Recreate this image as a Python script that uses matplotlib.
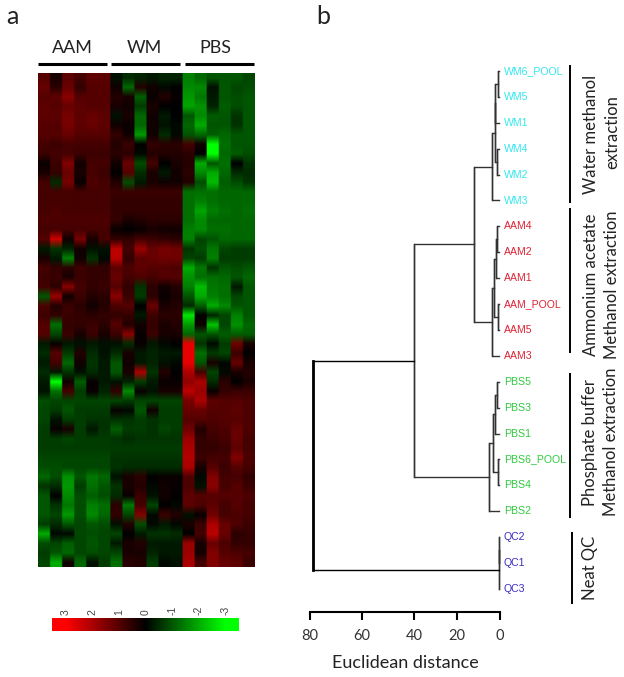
import numpy as np
import matplotlib
matplotlib.use("Agg")
import matplotlib.pyplot as plt
from matplotlib.colors import LinearSegmentedColormap

# heatmap values, top row first
aam_values = [
    [1.0, 0.3, 1.1, 0.8, 1.1, 1.1], [1.2, 0.5, 1.2, 0.6, 1.0, 1.0], [1.0, 1.1, 1.6, 1.0, 1.0, 1.0],
    [1.1, 1.0, 1.2, 1.1, 1.0, 1.0], [1.1, 1.1, 1.4, 1.1, 1.2, 1.1], [1.0, 1.0, 1.4, 1.1, 1.2, 1.1],
    [1.0, 1.0, 1.2, 1.0, 1.0, 1.0], [0.8, 0.7, 0.8, 0.8, 0.8, 0.8], [0.7, 0.8, 0.8, 0.7, 0.7, 0.7],
    [0.1, 0.7, 1.5, 0.2, 0.8, 0.8], [0.3, 0.6, 1.2, 0.3, 0.8, 0.7], [0.8, -0.5, 1.4, 0.1, 0.9, 0.8],
    [0.8, 0.8, 0.8, 0.8, 0.8, 0.8], [0.8, 0.8, 0.8, 0.8, 0.8, 0.8], [0.8, 0.9, 0.8, 0.8, 0.8, 0.8],
    [0.9, 0.9, 0.9, 0.9, 0.9, 0.9], [0.8, 0.8, 0.8, 0.8, 0.8, 0.8], [1.0, 2.4, 0.2, 1.4, 0.3, 0.8],
    [-0.3, -0.6, -0.4, 0.2, -0.2, -0.2], [0.3, -0.3, -1.5, 0.2, -0.6, -0.1], [0.8, 0.6, 0.5, 0.7, 0.6, 0.6],
    [0.7, 0.7, 0.3, 0.7, 0.6, 0.6], [0.8, 0.5, 1.6, 0.8, 0.6, 0.7], [-1.0, 1.8, 0.2, 0.7, 0.4, 0.5],
    [0.9, 0.4, 0.7, 0.5, 0.2, 0.4], [0.7, 0.6, 0.7, 0.6, 0.5, 0.6], [1.0, -1.3, 0.6, 0.6, 0.7, 0.5],
    [1.0, -0.8, 0.7, 0.3, 0.7, 0.3], [-0.3, 0.1, -0.3, -0.2, -0.3, -0.2], [-0.5, 1.0, -0.7, 0.4, -0.5, -0.2],
    [-0.3, 0.8, -1.2, 0.2, -0.6, -0.3], [-0.5, -0.3, -0.6, -0.2, -0.5, -0.3], [-0.3, -3.0, 0.2, -1.1, 0.1, -0.3],
    [-0.2, -1.3, 0.8, -0.7, 0.1, -0.4], [-0.9, -0.8, -0.8, -0.8, -0.8, -0.8], [-0.8, -0.7, -1.0, -0.7, -0.7, -0.7],
    [-0.8, -0.2, -0.7, -0.7, -0.6, -0.6], [-0.7, 0.1, 0.3, -0.7, -0.3, -0.6], [-0.7, -0.7, -0.8, -0.7, -0.7, -0.7],
    [-0.7, -0.7, -0.7, -0.7, -0.7, -0.7], [-0.8, -0.8, -0.8, -0.8, -0.8, -0.8], [-0.9, -0.9, -0.8, -0.8, -0.8, -0.8],
    [-1.2, -0.9, -1.7, -1.0, -1.4, -1.2], [-0.6, -0.5, -1.8, -0.7, -1.3, -1.0], [-1.0, 0.0, -1.6, -0.9, -1.1, -0.9],
    [-1.0, -0.6, -1.4, -0.9, -1.5, -1.3], [-1.0, -0.8, -1.8, -0.9, -1.6, -1.2], [-0.7, -0.5, -1.0, -0.8, -1.0, -0.9],
    [-2.0, -0.1, -0.1, -0.8, -0.9, -0.8], [-0.9, -0.8, -1.1, -0.8, -1.0, -0.8], [-0.7, -1.0, -1.2, -0.8, -0.9, -0.8],
    [-0.8, -2.0, 0.2, -1.2, -0.2, -0.7],
]
wm_values = [
    [-0.2, -0.5, -0.4, -0.3, -0.4, -0.4], [0.2, -1.2, 0.4, 0.2, -0.1, 0.0], [0.4, 0.3, -1.1, 0.1, 0.4, 0.1],
    [0.3, 0.2, -0.7, 0.3, 0.0, 0.0], [-0.2, 0.3, -1.2, 0.2, -0.3, 0.0], [0.2, 0.1, -1.2, 0.2, -0.2, -0.1],
    [0.6, 0.2, -1.8, 0.2, -0.5, -0.1], [0.4, 0.7, 0.0, 0.6, 0.5, 0.5], [0.5, 0.5, -0.1, 0.4, 0.4, 0.4],
    [0.2, 1.2, -0.9, 0.8, 0.0, 0.3], [0.0, 1.0, -0.5, 0.3, -0.3, 0.2], [0.4, -0.9, -0.3, 0.3, 0.2, 0.2],
    [0.7, 0.7, 0.7, 0.7, 0.7, 0.7], [0.6, 0.6, 0.6, 0.6, 0.6, 0.6], [0.6, 0.6, 0.6, 0.6, 0.6, 0.6],
    [0.6, 0.3, 0.4, 0.5, 0.5, 0.5], [0.1, 0.0, 0.1, 0.3, 0.2, 0.2], [0.6, 0.6, 0.8, 0.7, 0.6, 0.5],
    [2.2, 0.8, 1.8, 1.2, 1.4, 1.3], [2.2, 0.6, 1.1, 1.2, 1.3, 1.3], [1.1, 0.9, 1.1, 1.0, 1.0, 0.9],
    [1.2, 0.8, 0.9, 0.8, 1.0, 1.0], [1.0, 0.6, -0.6, 0.5, 0.2, 0.4], [1.6, 0.7, -0.7, 0.5, 0.1, 0.3],
    [0.9, 1.0, 0.0, 1.2, 0.3, 0.4], [0.6, 0.6, -0.3, 0.7, 0.5, 0.5], [1.0, 0.4, 0.2, 0.6, 0.3, 0.4],
    [0.7, 1.6, 0.1, 0.7, 0.3, 0.3], [-0.2, -0.5, 0.1, -0.3, -0.1, 0.0], [-0.5, 0.3, -0.3, -0.4, -0.3, -0.3],
    [-1.0, 0.2, -0.3, -0.4, -0.2, -0.1], [-1.0, 0.3, 2.0, -0.6, 0.4, 0.0], [-0.2, -0.4, -0.7, -0.3, 0.1, 0.1],
    [0.6, -1.6, 0.1, -0.2, 0.3, 0.3], [-0.8, -0.7, -0.8, -0.8, -0.8, -0.8], [0.1, -0.1, -1.0, 0.2, -0.7, -0.7],
    [-0.6, -0.6, -0.7, -0.6, -0.7, -0.7], [-1.1, -0.7, -0.7, -0.6, -0.8, -0.7], [-0.6, -0.5, -0.6, -0.6, -0.6, -0.6],
    [-0.7, -0.7, -0.7, -0.7, -0.7, -0.7], [-0.6, -0.6, -0.6, -0.6, -0.6, -0.6], [-0.6, -0.5, -0.5, -0.5, -0.5, -0.5],
    [-0.2, 0.3, 0.5, 0.0, 0.1, 0.1], [-0.6, 0.3, 0.4, -0.1, 0.2, 0.1], [-0.5, 0.1, 0.7, -0.2, 0.2, 0.0],
    [0.5, -1.4, 0.8, -0.8, 0.0, -0.1], [0.6, -0.8, 1.5, -0.1, 0.7, 0.4], [-0.2, 0.4, -0.9, -0.1, -0.3, -0.1],
    [-0.8, 0.0, -0.3, -0.6, -0.6, -0.5], [-0.3, 0.3, 0.4, -0.3, -0.3, -0.3], [-0.8, 0.3, 0.3, -0.4, -0.3, -0.3],
    [-1.3, 0.5, 0.4, -0.7, -0.1, -0.2],
]
pbs_values = [
    [-1.5, -1.2, -1.0, -1.0, -1.0, -0.8], [-1.6, -1.6, -0.2, -1.0, -0.8, -0.9], [-1.8, -1.4, -0.3, -1.0, -0.9, -1.0],
    [-1.9, -1.7, -0.4, -1.1, -0.9, -1.0], [-1.0, -1.6, -1.1, -1.0, -0.6, -1.0], [-1.2, -2.0, -1.0, -1.0, -0.6, -1.0],
    [-1.0, -1.2, -1.1, -1.2, -1.0, -1.0], [0.8, 0.2, -3.0, -1.3, -1.0, -1.0], [0.5, 0.0, -3.0, -1.2, -1.1, -0.9],
    [0.4, -2.0, -1.0, -1.3, 0.0, -0.6], [0.5, -1.6, -2.0, -1.2, -0.5, -0.5], [0.4, -0.9, -2.2, -1.1, -0.9, -0.6],
    [-1.3, -1.3, -1.3, -1.2, -1.2, -1.2], [-1.3, -1.5, -1.3, -1.2, -1.2, -1.2], [-1.3, -1.9, -1.5, -1.3, -1.2, -1.3],
    [-1.3, -1.6, -1.2, -1.2, -1.2, -1.2], [-1.5, -1.6, -1.3, -1.3, -1.2, -1.2], [-1.5, -0.8, -1.0, -1.2, -1.2, -1.2],
    [-0.6, -0.9, -1.4, -0.8, -0.7, -0.7], [-0.8, -0.7, -1.5, -0.7, -0.7, -0.7], [-2.0, -1.4, -0.6, -1.0, -0.9, -1.0],
    [-1.7, -1.3, -1.3, -1.2, -1.0, -1.2], [-1.5, -2.2, -1.4, -1.3, -0.3, -1.0], [-1.0, -2.0, -1.5, -1.3, -0.8, -1.0],
    [-0.5, -1.1, -2.0, -1.6, -1.0, -1.0], [-2.7, 0.0, -0.4, -0.8, -1.5, -1.0], [-1.8, 0.2, -2.3, -0.8, -1.7, -1.2],
    [-1.2, -1.0, -1.0, -1.1, -1.1, -1.1], [2.7, -0.6, -0.1, -0.7, 1.3, 0.3], [2.7, -1.3, -0.7, -0.8, 0.7, 0.0],
    [2.7, -1.0, 0.3, -0.1, 1.2, 0.3], [2.0, 0.8, -0.8, -0.1, 0.3, 0.4], [1.7, 2.0, -0.5, 0.5, 0.0, 0.3],
    [2.2, 1.8, 0.1, 0.6, 0.7, 0.7], [1.4, 2.0, 1.1, 1.0, 1.0, 0.9], [1.2, 1.2, 1.0, 1.0, 1.1, 0.9],
    [1.0, 1.0, 0.9, 1.0, 1.0, 0.9], [1.3, 0.4, 0.8, 0.9, 1.2, 0.9], [1.8, 0.6, 0.7, 0.8, 1.2, 0.8],
    [2.0, 0.6, 0.6, 0.7, 1.1, 0.8], [2.1, 0.7, 0.8, 0.8, 1.5, 0.9], [2.0, 0.3, 1.0, 0.7, 1.0, 0.8],
    [0.9, -0.1, 1.5, 0.8, 0.8, 0.6], [0.9, -0.2, 1.6, 0.8, 1.0, 0.7], [1.1, 1.0, 1.0, 1.0, 1.0, 0.9],
    [1.1, 0.9, 1.1, 0.8, 1.0, 0.8], [-0.2, 0.1, 1.3, 0.8, 0.9, 0.8], [0.3, 0.7, 2.0, 1.2, 0.9, 0.7],
    [0.0, 0.8, 2.2, 1.2, 0.5, 0.6], [1.8, 0.3, 1.2, 0.9, 0.6, 0.6], [1.8, 0.2, 1.5, 1.0, 0.9, 0.8],
    [2.0, 0.8, 1.5, 1.2, 1.1, 0.7],
]
group_names = ["AAM", "WM", "PBS"]
colorbar_ticks = [3, 2, 1, 0, -1, -2, -3]

# dendrogram: leaves top to bottom
wm_leaves = ["WM6_POOL", "WM5", "WM1", "WM4", "WM2", "WM3"]
aam_leaves = ["AAM4", "AAM2", "AAM1", "AAM_POOL", "AAM5", "AAM3"]
pbs_leaves = ["PBS5", "PBS3", "PBS1", "PBS6_POOL", "PBS4", "PBS2"]
qc_leaves = ["QC2", "QC1", "QC3"]
leaf_height = 0.5
distance_ticks = [80, 60, 40, 20, 0]
# merge heights, tree is (height, left, right) with leaf names at the ends
wm_tree = (3.7, (2.1, (2.2, (1.0, "WM6_POOL", "WM5"), "WM1"), (1.4, "WM4", "WM2")), "WM3")
aam_tree = (3.7, (2.6, (1.9, (1.5, "AAM4", "AAM2"), "AAM1"), (1.0, "AAM_POOL", "AAM5")), "AAM3")
pbs_tree = (5.3, (3.1, (2.2, (1.5, "PBS5", "PBS3"), "PBS1"), (1.1, "PBS6_POOL", "PBS4")), "PBS2")
qc_tree = (0.5, (0.5, "QC2", "QC1"), "QC3")
tree = (79, (40, (12, wm_tree, aam_tree), pbs_tree), qc_tree)

W, H = 624, 677
TEXT = "#222222"
plt.rcParams["font.family"] = ["Lato", "DejaVu Sans"]

fig = plt.figure(figsize=(W / 100, H / 100), dpi=100)


def add_axes_px(x0, y0, x1, y1):
    return fig.add_axes([x0 / W, 1 - y1 / H, (x1 - x0) / W, (y1 - y0) / H])


# overlay in pixel coords for panel letters, group bars and brackets
overlay = fig.add_axes([0, 0, 1, 1], zorder=5)
overlay.set_xlim(0, W)
overlay.set_ylim(H, 0)
overlay.axis("off")

# a. heatmap
cmap = LinearSegmentedColormap.from_list("rkg", ["#00ff00", "#000000", "#ff0000"])
matrix = np.hstack([np.array(aam_values), np.array(wm_values), np.array(pbs_values)])
ax_heat = add_axes_px(37.5, 73, 254, 567)
# repeat columns so the smoothing only softens the rows
ax_heat.imshow(np.repeat(matrix, 8, axis=1), cmap=cmap, vmin=-3, vmax=3, aspect="auto", interpolation="bilinear")
ax_heat.set_xticks([])
ax_heat.set_yticks([])
for spine in ax_heat.spines.values():
    spine.set_visible(False)

ax_cbar = add_axes_px(52, 618, 239, 631)
gradient = np.linspace(3.5, -3.5, 256).reshape(1, -1)
ax_cbar.imshow(gradient, cmap=cmap, vmin=-3, vmax=3, aspect="auto", extent=(3.5, -3.5, 0, 1))
ax_cbar.set_yticks([])
ax_cbar.xaxis.tick_top()
ax_cbar.set_xticks(colorbar_ticks)
ax_cbar.set_xticklabels([str(t) for t in colorbar_ticks], rotation=90, fontsize=7.5, color="#444444",
                        family="Liberation Sans")
ax_cbar.tick_params(axis="x", length=0, pad=2)
for spine in ax_cbar.spines.values():
    spine.set_visible(False)

for name, x_mid, x0, x1 in zip(group_names, [72, 144, 215], [38, 111, 185], [107, 180, 254]):
    overlay.text(x_mid, 48, name, ha="center", va="center", fontsize=13, color=TEXT)
    overlay.plot([x0, x1], [64, 64], color="black", lw=2.2, solid_capstyle="butt")

overlay.text(12, 17, "a", ha="center", va="center", fontsize=18, color=TEXT)
overlay.text(323, 16, "b", ha="center", va="center", fontsize=18, color=TEXT)

# b. dendrogram
leaf_pixels = [71 + 25.9 * i for i in range(21)]
y_top, y_bottom = 60, 612
ax_tree = add_axes_px(310, y_top, 500, y_bottom)
ax_tree.patch.set_alpha(0)
tick_pixels = [310, 362, 414, 457, 500]


# the printed axis is not even, so ticks go through a piecewise scale (negated to stay increasing)
def dist_to_px(v):
    return -np.interp(v, distance_ticks[::-1], tick_pixels[::-1])


def px_to_dist(v):
    return np.interp(-np.asarray(v), tick_pixels, distance_ticks)


ax_tree.set_xscale("function", functions=(dist_to_px, px_to_dist))
ax_tree.set_xlim(80, 0)
ax_tree.set_ylim((y_bottom - 71) / 25.9, (y_top - 71) / 25.9)

leaves = wm_leaves + aam_leaves + pbs_leaves + qc_leaves
leaf_colors = ["#35e6ee"] * 6 + ["#dd2233"] * 6 + ["#2fcb3f"] * 6 + ["#3a2cc0"] * 3
leaf_pos = {name: i for i, name in enumerate(leaves)}


def draw_node(node):
    # returns (distance, y) of the node
    if isinstance(node, str):
        return leaf_height, leaf_pos[node]
    height, left, right = node
    x_l, y_l = draw_node(left)
    x_r, y_r = draw_node(right)
    lw = 2.0 if height > 70 else 1.0
    color = "black" if height > 70 else "#333333"
    ax_tree.plot([x_l, height, height, x_r], [y_l, y_l, y_r, y_r], color=color, lw=1.0, clip_on=False)
    ax_tree.plot([height, height], [y_l, y_r], color=color, lw=lw, clip_on=False)
    return height, (y_l + y_r) / 2


draw_node(tree)

for name, color in zip(leaves, leaf_colors):
    ax_tree.annotate(name, (leaf_height, leaf_pos[name]), xytext=(3.6, 0), textcoords="offset points",
                     ha="left", va="center", fontsize=7.6, color=color, family="Liberation Sans",
                     annotation_clip=False)

ax_tree.set_xticks(distance_ticks)
ax_tree.set_xticklabels([str(t) for t in distance_ticks], fontsize=10.5, color="#333333")
ax_tree.minorticks_off()
ax_tree.set_yticks([])
ax_tree.tick_params(axis="x", length=6, width=1.5, pad=6)
for side in ["top", "left", "right"]:
    ax_tree.spines[side].set_visible(False)
ax_tree.spines["bottom"].set_linewidth(1.5)
ax_tree.set_xlabel("Euclidean distance", fontsize=13, color=TEXT, labelpad=9)

# brackets and group captions
brackets = [(570, 65, 203), (570, 208, 353), (570, 373, 518), (572, 532, 604)]
for x, y0, y1 in brackets:
    overlay.plot([x, x], [y0, y1], color="black", lw=1.4, solid_capstyle="butt")

captions = [
    (591, 134, "Water methanol"), (612, 132, "extraction"),
    (591, 285, "Ammonium acetate"), (612, 285, "Methanol extraction"),
    (590, 443, "Phosphate buffer"), (611, 442, "Methanol extraction"),
    (590, 568, "Neat QC"),
]
for x, y, label in captions:
    overlay.text(x, y, label, rotation=90, ha="center", va="center", fontsize=12, color=TEXT)

plt.savefig("out.png", dpi=100, facecolor="white")
